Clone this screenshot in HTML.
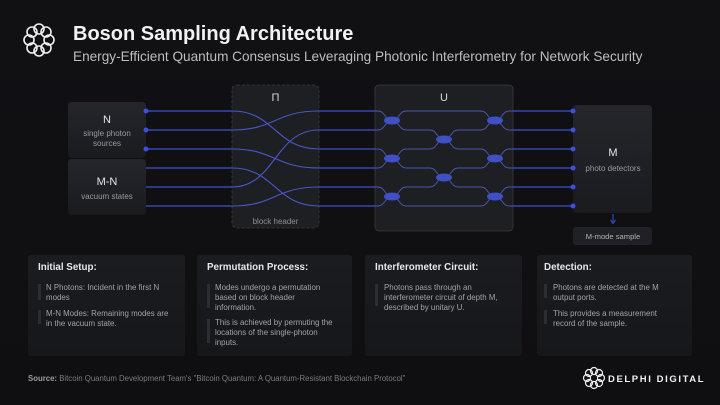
<!DOCTYPE html>
<html><head><meta charset="utf-8"><style>
html,body{margin:0;padding:0;background:#111114;}
svg{display:block;font-family:"Liberation Sans",sans-serif;}
</style></head><body>
<svg width="720" height="405" viewBox="0 0 720 405" xmlns="http://www.w3.org/2000/svg">
<defs>
<linearGradient id="bg" x1="0" y1="0" x2="0" y2="1"><stop offset="0" stop-color="#111114"/><stop offset="1" stop-color="#0f0f12"/></linearGradient>
<linearGradient id="box" x1="0" y1="0" x2="0" y2="1"><stop offset="0" stop-color="#24262b"/><stop offset="1" stop-color="#1a1b1f"/></linearGradient>
<linearGradient id="pan" x1="0" y1="0" x2="0" y2="1"><stop offset="0" stop-color="#1b1c20"/><stop offset="1" stop-color="#16171a"/></linearGradient>
</defs>
<rect width="720" height="405" fill="url(#bg)"/>
<g fill="none" stroke="#f0f0f0" stroke-width="1.6">
<circle cx="39" cy="29" r="5"/><circle cx="46" cy="32" r="5"/><circle cx="49" cy="40" r="5"/><circle cx="46" cy="48" r="5"/>
<circle cx="39" cy="51" r="5"/><circle cx="32" cy="48" r="5"/><circle cx="29" cy="40" r="5"/><circle cx="32" cy="32" r="5"/>
</g>
<text x="73" y="40" font-size="20" font-weight="bold" fill="#f2f2f2">Boson Sampling Architecture</text>
<text x="73" y="61" font-size="13.6" fill="#bdbdc2">Energy-Efficient Quantum Consensus Leveraging Photonic Interferometry for Network Security</text>

<rect x="68" y="102" width="78" height="56" rx="4" fill="url(#box)"/>
<rect x="68" y="159" width="78" height="56" rx="4" fill="url(#box)"/>
<text x="107" y="123" font-size="11" fill="#e6e6ea" text-anchor="middle">N</text>
<text x="107" y="136" font-size="8" fill="#9a9aa0" text-anchor="middle">single photon</text>
<text x="107" y="146" font-size="8" fill="#9a9aa0" text-anchor="middle">sources</text>
<text x="107" y="185" font-size="11" fill="#e6e6ea" text-anchor="middle">M-N</text>
<text x="107" y="199" font-size="8" fill="#9a9aa0" text-anchor="middle">vacuum states</text>

<rect x="232" y="85" width="87" height="143" rx="5" fill="#1e1f23" stroke="#3a3b40" stroke-dasharray="3 2" stroke-width="0.8"/>
<text x="275.5" y="101" font-size="11" fill="#d8d8dc" text-anchor="middle">Π</text>
<text x="275.5" y="224" font-size="8" fill="#8e8e94" text-anchor="middle">block header</text>

<rect x="375" y="85" width="138" height="146" rx="4" fill="#1e1f23" stroke="#393a3f" stroke-width="0.8"/>
<text x="444" y="101" font-size="11" fill="#d8d8dc" text-anchor="middle">U</text>

<rect x="573" y="105" width="79" height="108" rx="4" fill="url(#box)"/>
<text x="613" y="156" font-size="11" fill="#e6e6ea" text-anchor="middle">M</text>
<text x="613" y="171" font-size="8" fill="#9a9aa0" text-anchor="middle">photo detectors</text>
<rect x="573" y="227" width="79" height="18" rx="3" fill="#202126"/>
<text x="613" y="239" font-size="7.6" fill="#b0b0b6" text-anchor="middle">M-mode sample</text>
<line x1="613" y1="214" x2="613" y2="222" stroke="#3d4fd6" stroke-width="1"/>
<path d="M610.5,220 L613,223.5 L615.5,220" fill="none" stroke="#3d4fd6" stroke-width="1"/>

<g stroke="#3d4fd6" stroke-width="1.3" fill="none">
<path d="M146,111 H232 M146,130 H232 M146,149 H232 M146,168 H232 M146,187 H232 M146,206 H232"/>
<path d="M319,111 H375 M319,130 H375 M319,149 H375 M319,168 H375 M319,187 H375 M319,206 H375"/>
<path d="M513,111 H573 M513,130 H573 M513,149 H573 M513,168 H573 M513,187 H573 M513,206 H573"/>
</g>
<g stroke="#4a57c8" stroke-width="1.1" fill="none">
<path d="M232,111 C275,111 275,149 319,149"/>
<path d="M232,130 C275,130 275,111 319,111"/>
<path d="M232,149 C275,149 275,168 319,168"/>
<path d="M232,168 C275,168 275,206 319,206"/>
<path d="M232,187 C275,187 275,130 319,130"/>
<path d="M232,206 C275,206 275,187 319,187"/>
</g>
<g stroke="#4a55b0" stroke-width="1" fill="none">
<path d="M375,111 L378,111 C385,111 385,120.5 392,120.5 C399,120.5 399,111 406,111 L481,111 C488,111 488,120.5 495,120.5 C502,120.5 502,111 509,111 L513,111"/>
<path d="M375,130 L378,130 C385,130 385,120.5 392,120.5 C399,120.5 399,130 406,130 L430,130 C437,130 437,139.5 444,139.5 C451,139.5 451,130 458,130 L481,130 C488,130 488,120.5 495,120.5 C502,120.5 502,130 509,130 L513,130"/>
<path d="M375,149 L378,149 C385,149 385,158.5 392,158.5 C399,158.5 399,149 406,149 L430,149 C437,149 437,139.5 444,139.5 C451,139.5 451,149 458,149 L481,149 C488,149 488,158.5 495,158.5 C502,158.5 502,149 509,149 L513,149"/>
<path d="M375,168 L378,168 C385,168 385,158.5 392,158.5 C399,158.5 399,168 406,168 L430,168 C437,168 437,177.5 444,177.5 C451,177.5 451,168 458,168 L481,168 C488,168 488,158.5 495,158.5 C502,158.5 502,168 509,168 L513,168"/>
<path d="M375,187 L378,187 C385,187 385,196.5 392,196.5 C399,196.5 399,187 406,187 L430,187 C437,187 437,177.5 444,177.5 C451,177.5 451,187 458,187 L481,187 C488,187 488,196.5 495,196.5 C502,196.5 502,187 509,187 L513,187"/>
<path d="M375,206 L378,206 C385,206 385,196.5 392,196.5 C399,196.5 399,206 406,206 L481,206 C488,206 488,196.5 495,196.5 C502,196.5 502,206 509,206 L513,206"/>
</g>
<g fill="#3f4fc4">
<ellipse cx="392" cy="120.5" rx="8" ry="4"/><ellipse cx="495" cy="120.5" rx="8" ry="4"/>
<ellipse cx="392" cy="158.5" rx="8" ry="4"/><ellipse cx="495" cy="158.5" rx="8" ry="4"/>
<ellipse cx="392" cy="196.5" rx="8" ry="4"/><ellipse cx="495" cy="196.5" rx="8" ry="4"/>
<ellipse cx="444" cy="139.5" rx="8" ry="4"/><ellipse cx="444" cy="177.5" rx="8" ry="4"/>
</g>
<g fill="#3d4fe0">
<circle cx="146" cy="111" r="2.5"/><circle cx="146" cy="130" r="2.5"/><circle cx="146" cy="149" r="2.5"/>
<circle cx="573" cy="111" r="2.5"/><circle cx="573" cy="130" r="2.5"/><circle cx="573" cy="149" r="2.5"/>
<circle cx="573" cy="168" r="2.5"/><circle cx="573" cy="187" r="2.5"/><circle cx="573" cy="206" r="2.5"/>
</g>

<g fill="url(#pan)">
<rect x="28" y="255" width="157" height="101" rx="3"/>
<rect x="197" y="255" width="155" height="101" rx="3"/>
<rect x="365" y="255" width="157" height="101" rx="3"/>
<rect x="537" y="255" width="155" height="101" rx="3"/>
</g>
<g font-size="9.8" font-weight="bold" fill="#e8e8ec">
<text x="38" y="270">Initial Setup:</text>
<text x="207" y="270">Permutation Process:</text>
<text x="375" y="270">Interferometer Circuit:</text>
<text x="544" y="270">Detection:</text>
</g>
<g fill="#2c2d32">
<rect x="38" y="284" width="3" height="16"/><rect x="38" y="310" width="3" height="14"/>
<rect x="207" y="284" width="3" height="24"/><rect x="207" y="319" width="3" height="24"/>
<rect x="375" y="284" width="3" height="22"/>
<rect x="544" y="284" width="3" height="14"/><rect x="544" y="310" width="3" height="14"/>
</g>
<g font-size="7.9" fill="#a2a2a8">
<text x="46" y="290">N Photons: Incident in the first N</text><text x="46" y="300">modes</text>
<text x="46" y="316">M-N Modes: Remaining modes are</text><text x="46" y="326">in the vacuum state.</text>
<text x="215" y="290">Modes undergo a permutation</text><text x="215" y="300">based on block header</text><text x="215" y="310">information.</text>
<text x="215" y="325">This is achieved by permuting the</text><text x="215" y="335">locations of the single-photon</text><text x="215" y="345">inputs.</text>
<text x="384" y="290">Photons pass through an</text><text x="384" y="300">interferometer circuit of depth M,</text><text x="384" y="310">described by unitary U.</text>
<text x="553" y="290">Photons are detected at the M</text><text x="553" y="300">output ports.</text>
<text x="553" y="316">This provides a measurement</text><text x="553" y="326">record of the sample.</text>
</g>
<text x="28" y="381" font-size="7.8" fill="#7a7a80"><tspan font-weight="bold" fill="#9a9aa0">Source:</tspan>  Bitcoin Quantum Development Team's "Bitcoin Quantum: A Quantum-Resistant Blockchain Protocol"</text>
<g fill="none" stroke="#f0f0f0" stroke-width="1.2">
<circle cx="594" cy="371" r="3.5"/><circle cx="599" cy="373" r="3.5"/><circle cx="601" cy="378" r="3.5"/><circle cx="599" cy="383" r="3.5"/>
<circle cx="594" cy="385" r="3.5"/><circle cx="589" cy="383" r="3.5"/><circle cx="587" cy="378" r="3.5"/><circle cx="589" cy="373" r="3.5"/>
</g>
<text x="608" y="382" font-size="9.5" font-weight="bold" fill="#f0f0f0" letter-spacing="1.6">DELPHI DIGITAL</text>
</svg>
</body></html>
